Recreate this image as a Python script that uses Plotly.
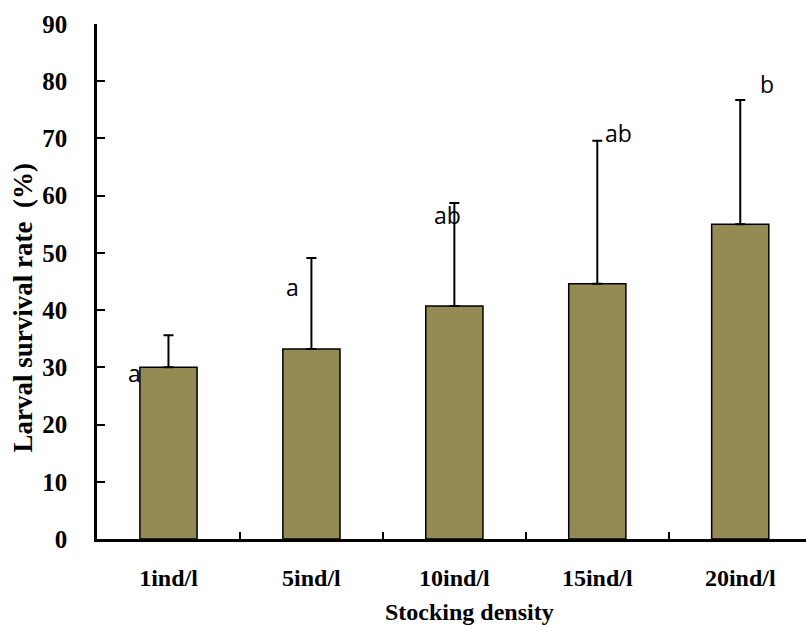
import plotly.graph_objects as go

categories = ["1ind/l", "5ind/l", "10ind/l", "15ind/l", "20ind/l"]
survival = [30.0, 33.2, 40.7, 44.6, 55.0]
error_up = [5.6, 15.9, 18.0, 25.0, 21.7]
letters = ["a", "a", "ab", "ab", "b"]
# letter label placement (category offset, y value)
letter_dx = [-0.24, -0.13, -0.05, 0.15, 0.185]
letter_y = [29.0, 44.0, 56.6, 71.0, 79.5]

fig = go.Figure()
fig.add_trace(go.Bar(
    x=list(range(len(categories))),
    y=survival,
    width=0.4,
    marker=dict(color="#948A54", line=dict(color="black", width=1.5)),
    error_y=dict(type="data", symmetric=False, array=error_up,
                 arrayminus=[0] * len(error_up),
                 color="black", thickness=2, width=5),
))

for i, (t, dx, yy) in enumerate(zip(letters, letter_dx, letter_y)):
    fig.add_annotation(x=i + dx, y=yy, xref="x", yref="y", text=t,
                       showarrow=False, xanchor="center", yanchor="middle",
                       font=dict(family="Open Sans", size=23, color="black"))

fig.add_annotation(x=0.5, y=0, xref="paper", yref="paper",
                   text="Stocking density", showarrow=False,
                   xanchor="center", yanchor="top", xshift=18, yshift=-58,
                   font=dict(family="Liberation Serif", size=24, color="black", weight="bold"))
fig.add_annotation(x=0, y=0.5, xref="paper", yref="paper",
                   text="Larval survival rate  (%)", showarrow=False, textangle=-90,
                   xanchor="center", yanchor="middle", xshift=-75, yshift=-27,
                   font=dict(family="Liberation Serif", size=27, color="black", weight="bold"))

fig.update_layout(
    width=806, height=628,
    margin=dict(l=97, r=0, t=24, b=89),
    paper_bgcolor="white", plot_bgcolor="white",
    showlegend=False,
    xaxis=dict(
        range=[-0.5, 4.46],
        tickmode="array", tickvals=list(range(len(categories))), ticktext=categories,
        showline=True, linecolor="black", linewidth=2.5,
        ticks="", showgrid=False, zeroline=False,
        tickfont=dict(family="Liberation Serif", size=24, color="black", weight="bold"),
        ticklabelstandoff=15,
        minor=dict(tickmode="array", tickvals=[0.5, 1.5, 2.5, 3.5],
                   ticks="inside", ticklen=7, tickwidth=2, tickcolor="black",
                   showgrid=False),
    ),
    yaxis=dict(
        range=[0, 90], dtick=10, tick0=0,
        showline=True, linecolor="black", linewidth=2.5,
        ticks="inside", ticklen=8, tickwidth=2, tickcolor="black",
        showgrid=False, zeroline=False,
        tickfont=dict(family="Liberation Serif", size=25, color="black", weight="bold"),
        ticklabelstandoff=22,
    ),
)

fig.write_html("out.html")
